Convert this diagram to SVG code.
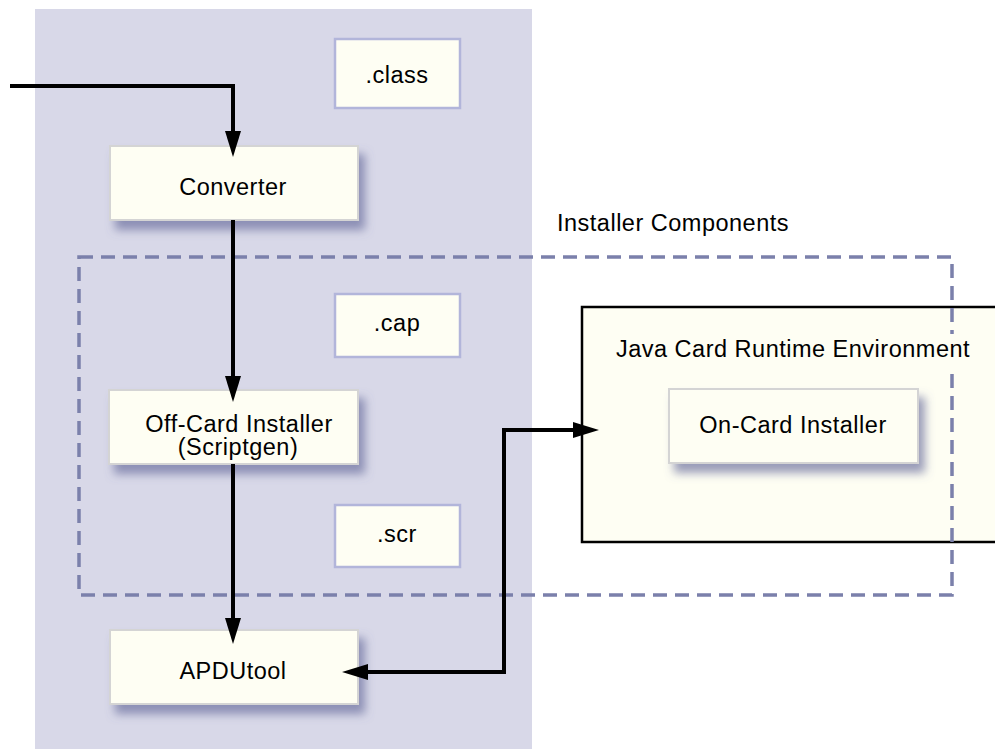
<svg xmlns="http://www.w3.org/2000/svg" width="995" height="749" viewBox="0 0 995 749">
  <style>
    text { font-family: "Liberation Sans", Arial, sans-serif; font-size: 23.5px; letter-spacing: 0.5px; fill: #000; text-anchor: middle; }
    .node { fill: #fefef3; stroke: #d4d4d4; stroke-width: 2; }
    .file { fill: #fefef3; stroke: #b2b5da; stroke-width: 2.5; }
    .conn { fill: none; stroke: #000; stroke-width: 4; }
  </style>
  <defs>
    <filter id="shadow" x="-20%" y="-30%" width="150%" height="180%">
      <feDropShadow dx="6" dy="9" stdDeviation="5" flood-color="#65689a" flood-opacity="0.65"/>
    </filter>
    <marker id="arrow" markerUnits="userSpaceOnUse" markerWidth="26" markerHeight="16" refX="16" refY="8" orient="auto-start-reverse" viewBox="0 0 26 16">
      <path d="M0,0 L26,8 L0,16 Z" fill="#000"/>
    </marker>
  </defs>

  <rect width="995" height="749" fill="#ffffff"/>

  <g id="offcard-panel">
    <rect x="35" y="9" width="497" height="745" fill="#d8d8e8"/>
  </g>

  <g id="jcre">
    <rect x="582" y="307" width="420" height="235" fill="#fefef3" stroke="#000" stroke-width="2.5"/>
  </g>

  <g id="installer-components">
    <rect x="79" y="257" width="873" height="338" fill="none" stroke="#7b80ab" stroke-width="3.5" stroke-dasharray="14 8"/>
    <text x="673" y="231">Installer Components</text>
  </g>

  <g id="jcre-label">
    <rect x="610" y="334" width="366" height="36" fill="#fefef3"/>
    <text x="793" y="357">Java Card Runtime Environment</text>
  </g>

  <g id="file-class">
    <rect class="file" x="335" y="39" width="125" height="69"/>
    <text x="397" y="83">.class</text>
  </g>
  <g id="file-cap">
    <rect class="file" x="335" y="294" width="125" height="63"/>
    <text x="397" y="331">.cap</text>
  </g>
  <g id="file-scr">
    <rect class="file" x="335" y="505" width="125" height="62"/>
    <text x="397" y="542">.scr</text>
  </g>

  <g id="converter">
    <rect class="node" x="110" y="146" width="248" height="74" filter="url(#shadow)"/>
    <text x="233" y="195">Converter</text>
  </g>
  <g id="offcard-installer">
    <rect class="node" x="109" y="390" width="249" height="74" filter="url(#shadow)"/>
    <text x="239" y="432">Off-Card Installer</text>
    <text x="238" y="455">(Scriptgen)</text>
  </g>
  <g id="apdutool">
    <rect class="node" x="110" y="630" width="248" height="74" filter="url(#shadow)"/>
    <text x="233" y="679">APDUtool</text>
  </g>
  <g id="oncard-installer">
    <rect class="node" x="669" y="389" width="249" height="74" filter="url(#shadow)"/>
    <text x="793" y="433">On-Card Installer</text>
  </g>

  <g id="connectors">
    <path class="conn" d="M10,86 H233 V147" marker-end="url(#arrow)"/>
    <path class="conn" d="M233,220 V392" marker-end="url(#arrow)"/>
    <path class="conn" d="M233,464 V634" marker-end="url(#arrow)"/>
    <path class="conn" d="M352,672 H504 V430 H589" marker-start="url(#arrow)" marker-end="url(#arrow)"/>
  </g>
</svg>
